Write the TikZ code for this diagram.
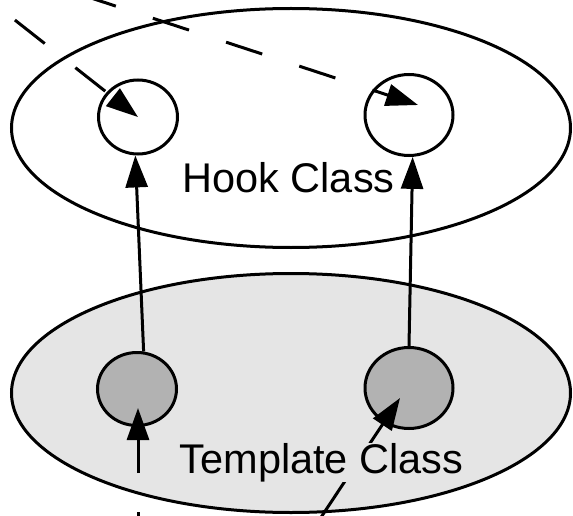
\documentclass[tikz,border=0pt]{standalone}
\usepackage{fontspec}
\setmainfont{Liberation Sans}
\usetikzlibrary{shapes.geometric, arrows.meta}
\definecolor{tmplfill}{gray}{0.9}
\definecolor{hookdot}{gray}{0.7}

\begin{document}
\begin{tikzpicture}[x=1pt, y=-1pt]
	\tikzstyle{classbox}=[ellipse, draw, line width=3pt,
	minimum width=559pt, minimum height=239pt, inner sep=0pt]
	\tikzstyle{method}=[ellipse, draw, line width=3pt, inner sep=0pt]
	\tikzstyle{classname}=[font=\fontsize{41.5}{50}\selectfont,
	inner sep=0pt, anchor=base]
	\tikzstyle{call}=[line width=3pt, -{Triangle[length=32pt, width=22pt]}]
	\tikzstyle{hookcall}=[call, dash pattern=on 38pt off 39pt]
	
	\useasboundingbox (0,0) rectangle (573,516);
	
	\node[classbox] at (291,128) (hook) {};
	\node[classbox, fill=tmplfill] at (291,393) (template) {};
	
	\node[method, fill=white, minimum width=79pt, minimum height=74pt] at (138,117) (hookL) {};
	\node[method, fill=white, minimum width=88pt, minimum height=81pt] at (409,115) (hookR) {};
	\node[method, fill=hookdot, minimum width=79pt, minimum height=73pt] at (137,389) (tmplL) {};
	\node[method, fill=hookdot, minimum width=88pt, minimum height=81pt] at (409,388) (tmplR) {};
	
	\node[classname] at (288.5,192) (hookname) {Hook Class};
	
	\coordinate (dL) at (-45.6,-27.6);
	\coordinate (dR) at (79.7,-5.7);
	\coordinate (inL) at (138,473);
	\coordinate (stubT) at (138,512);
	\coordinate (stubB) at (138,540);
	\coordinate (inR) at (306,540);
	
	\draw[hookcall] (dL) -- (hookL.center);
	\draw[hookcall] (dR) -- ([shift={(9,-10)}]hookR.center);
	\draw[call] (tmplL.80) -- (hookL.266);
	\draw[call] (tmplR.north) -- (hookR.275);
	\draw[call] (inL) -- ([shift={(1,19)}]tmplL.center);
	\draw[line width=3pt] (stubT) -- (stubB);
	\draw[call] (inR) -- ([shift={(-9,10)}]tmplR.center);
	
	\node[classname, fill=tmplfill] at (321.5,473) (tmplname) {Template Class};
	
\end{tikzpicture}
\end{document}
